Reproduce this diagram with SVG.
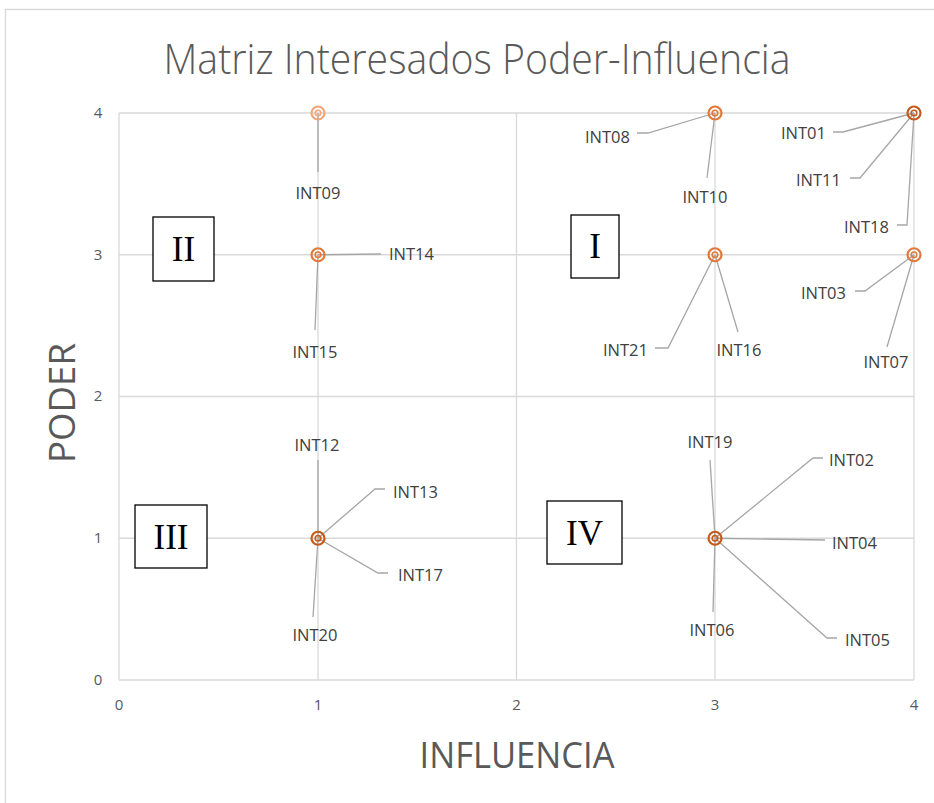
<svg xmlns="http://www.w3.org/2000/svg" width="934" height="803" viewBox="0 0 934 803">
<style>
.grid{stroke:#d9d9d9;stroke-width:1.3;fill:none}
.lead{stroke:#a6a6a6;stroke-width:1.3;fill:none}
.lbl{font-family:"Open Sans","Liberation Sans",sans-serif;font-size:16.5px;fill:#404040}
.tick{font-family:"Open Sans","Liberation Sans",sans-serif;font-size:15px;fill:#595959}
.quad{fill:#fff;stroke:#000;stroke-width:1.3}
.qt{font-family:"Liberation Serif","DejaVu Serif",serif;font-size:35px;fill:#000;text-anchor:middle}
.mo{fill:none;stroke:#E0793A;stroke-width:2.2}
.mi{fill:none;stroke:#E0793A;stroke-width:1.6}
.dk .mo,.dk .mi{stroke:#C55A1A}
.lt .mo,.lt .mi{stroke:#F0A77A}
</style>
<rect x="0" y="0" width="934" height="803" fill="#fff"/>
<path d="M5.5 803 V9.5 H934" class="grid" stroke-width="1.5"/>
<text x="477" y="74" text-anchor="middle" font-family="'Open Sans','Liberation Sans',sans-serif" font-weight="300" font-size="42" fill="#595959" textLength="627" lengthAdjust="spacingAndGlyphs">Matriz Interesados Poder-Influencia</text>
<g id="grid">
<path class="grid" d="M119 113 H914 M119 254.75 H914 M119 396.5 H914 M119 538.25 H914 M119 680 H914 M119 113 V680 M318 113 V680 M516.5 113 V680 M715 113 V680 M914 113 V680"/>
</g>
<g id="axes">
<text class="tick" x="98" y="118" text-anchor="middle">4</text>
<text class="tick" x="98" y="260" text-anchor="middle">3</text>
<text class="tick" x="98" y="401" text-anchor="middle">2</text>
<text class="tick" x="98" y="543" text-anchor="middle">1</text>
<text class="tick" x="98" y="685" text-anchor="middle">0</text>
<text class="tick" x="119" y="710" text-anchor="middle">0</text>
<text class="tick" x="318" y="710" text-anchor="middle">1</text>
<text class="tick" x="516.5" y="710" text-anchor="middle">2</text>
<text class="tick" x="715" y="710" text-anchor="middle">3</text>
<text class="tick" x="914" y="710" text-anchor="middle">4</text>
<text x="517" y="768" text-anchor="middle" font-family="'Open Sans','Liberation Sans',sans-serif" font-size="36" fill="#595959" textLength="195" lengthAdjust="spacingAndGlyphs">INFLUENCIA</text>
<text transform="translate(75 403) rotate(-90)" text-anchor="middle" font-family="'Open Sans','Liberation Sans',sans-serif" font-size="36" fill="#595959" textLength="120" lengthAdjust="spacingAndGlyphs">PODER</text>
</g>
<g id="connectors">
<path class="lead" d="M318 113 V172"/>
<path class="lead" d="M318 254.75 L381 254"/>
<path class="lead" d="M318 254.75 L315 330"/>
<path class="lead" d="M715 113 L648 133 H637"/>
<path class="lead" d="M715 113 L707 178"/>
<path class="lead" d="M914 113 L843 132 H833"/>
<path class="lead" d="M914 113 L860 178 H850"/>
<path class="lead" d="M914 113 L907 225 H897"/>
<path class="lead" d="M914 254.75 L865 291 H855"/>
<path class="lead" d="M914 254.75 L887 347"/>
<path class="lead" d="M715 254.75 L668 348 H655"/>
<path class="lead" d="M715 254.75 L738 332"/>
<path class="lead" d="M318 538.25 V460"/>
<path class="lead" d="M318 538.25 L375 489 H385"/>
<path class="lead" d="M318 538.25 L378 573 H388"/>
<path class="lead" d="M318 538.25 L313 617"/>
<path class="lead" d="M715 538.25 L710 460"/>
<path class="lead" d="M715 538.25 L813 458 H823"/>
<path class="lead" d="M715 538.25 L825 540"/>
<path class="lead" d="M715 538.25 L713 612"/>
<path class="lead" d="M715 538.25 L827 638 H837"/>
</g>
<g id="quadrants">
<g id="q2"><rect class="quad" x="153" y="217" width="61" height="64"/><text class="qt" x="183.5" y="261">II</text></g>
<g id="q1"><rect class="quad" x="571" y="215" width="48" height="63"/><text class="qt" x="595" y="258">I</text></g>
<g id="q3"><rect class="quad" x="135" y="505" width="72" height="63"/><text class="qt" x="171" y="549">III</text></g>
<g id="q4"><rect class="quad" x="547" y="501" width="75" height="63"/><text class="qt" x="584.5" y="545">IV</text></g>
</g>
<g id="points">
<g id="p14" class="lt"><circle class="mo" cx="318" cy="113" r="6.5"/><circle class="mi" cx="318" cy="113" r="2.8"/></g>
<g id="p13"><circle class="mo" cx="318" cy="254.75" r="6.5"/><circle class="mi" cx="318" cy="254.75" r="2.8"/></g>
<g id="p34"><circle class="mo" cx="715" cy="113" r="6.5"/><circle class="mi" cx="715" cy="113" r="2.8"/></g>
<g id="p44" class="dk"><circle class="mo" cx="914" cy="113" r="6.5"/><circle class="mi" cx="914" cy="113" r="2.8"/></g>
<g id="p33"><circle class="mo" cx="715" cy="254.75" r="6.5"/><circle class="mi" cx="715" cy="254.75" r="2.8"/></g>
<g id="p43"><circle class="mo" cx="914" cy="254.75" r="6.5"/><circle class="mi" cx="914" cy="254.75" r="2.8"/></g>
<g id="p11" class="dk"><circle class="mo" cx="318" cy="538.25" r="6.5"/><circle class="mi" cx="318" cy="538.25" r="2.8"/></g>
<g id="p31" class="dk"><circle class="mo" cx="715" cy="538.25" r="6.5"/><circle class="mi" cx="715" cy="538.25" r="2.8"/></g>
</g>
<g id="labels">
<text class="lbl" x="318" y="199" text-anchor="middle">INT09</text>
<text class="lbl" x="389" y="260">INT14</text>
<text class="lbl" x="315" y="358" text-anchor="middle">INT15</text>
<text class="lbl" x="630" y="143" text-anchor="end">INT08</text>
<text class="lbl" x="705" y="203" text-anchor="middle">INT10</text>
<text class="lbl" x="826" y="139" text-anchor="end">INT01</text>
<text class="lbl" x="841" y="186" text-anchor="end">INT11</text>
<text class="lbl" x="889" y="233" text-anchor="end">INT18</text>
<text class="lbl" x="846" y="299" text-anchor="end">INT03</text>
<text class="lbl" x="886" y="368" text-anchor="middle">INT07</text>
<text class="lbl" x="648" y="356" text-anchor="end">INT21</text>
<text class="lbl" x="739" y="356" text-anchor="middle">INT16</text>
<text class="lbl" x="317" y="451" text-anchor="middle">INT12</text>
<text class="lbl" x="393" y="498">INT13</text>
<text class="lbl" x="398" y="581">INT17</text>
<text class="lbl" x="315" y="641" text-anchor="middle">INT20</text>
<text class="lbl" x="710" y="448" text-anchor="middle">INT19</text>
<text class="lbl" x="829" y="466">INT02</text>
<text class="lbl" x="832" y="549">INT04</text>
<text class="lbl" x="712" y="636" text-anchor="middle">INT06</text>
<text class="lbl" x="845" y="646">INT05</text>
</g>
</svg>
